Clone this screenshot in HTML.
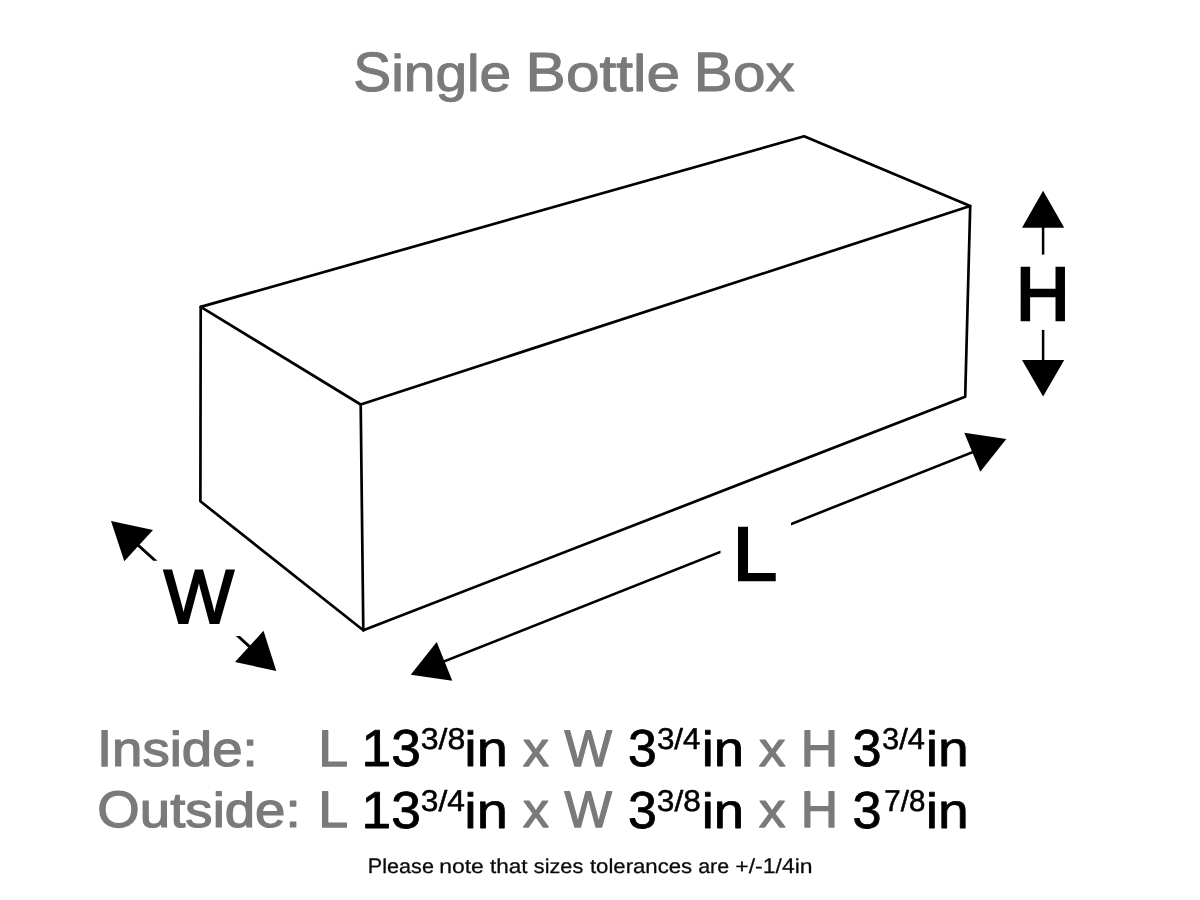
<!DOCTYPE html>
<html><head><meta charset="utf-8">
<style>
html,body{margin:0;padding:0;background:#fff;width:1200px;height:900px;overflow:hidden}
svg{display:block;position:absolute;left:0;top:0;will-change:transform}
text{font-family:"Liberation Sans",sans-serif}
</style></head><body>
<svg width="1200" height="900" viewBox="0 0 1200 900">
<g fill="none" stroke="#000" stroke-width="2.7" stroke-linejoin="round" stroke-linecap="round">
<path d="M200.7 306.9 L804.1 136.2 L970.2 206 L360.7 404.5 Z"/>
<path d="M200.7 306.9 L200.4 501.3 L363.3 630.3 L360.7 404.5"/>
<path d="M970.2 206 L965.2 396.7 L363.3 630.3"/>
</g>
<g fill="#000">
<polygon points="1043.1,190.8 1064.2,227.7 1022,227.7"/>
<rect x="1041.85" y="227" width="2.5" height="27.6"/>
<rect x="1041.85" y="329.9" width="2.5" height="31"/>
<polygon points="1022,360.1 1064.2,360.1 1043.1,396.5"/>
<polygon points="111,521 153,530 124.3,561.3"/>
<polygon points="139.6,544.6 157.4,560.7 153.2,560.7 137.7,546.7 130,540"/>
<polygon points="276.3,671 235,662 263.5,630.7"/>
<polygon points="240,636 235.8,636 248.3,647.4 255,653 250.2,645.3"/>
<polygon points="410.7,674.7 436.7,641.9 452.3,680.7"/>
<polygon points="441,661.29 720.5,550.56 720.5,553.35 441,664.08"/>
<polygon points="1006.3,439 964.3,432.7 980.3,471.7"/>
<polygon points="791,522.63 974,450.13 974,452.92 791,525.42"/>
</g>

<g font-family="Liberation Sans" font-size="100" stroke-linejoin="round" style="font-kerning:none;font-variant-ligatures:none;text-rendering:geometricPrecision">
<text transform="matrix(0.56823 0 0 0.55379 353.270 90.850)" fill="#7a7a7a" stroke="#7a7a7a" stroke-width="1.961">S</text>
<text transform="matrix(0.56823 0 0 0.51403 391.170 90.850)" fill="#7a7a7a" stroke="#7a7a7a" stroke-width="2.035">ingle</text>
<text transform="matrix(0.60395 0 0 0.55379 525.596 90.850)" fill="#7a7a7a" stroke="#7a7a7a" stroke-width="1.902">B</text>
<text transform="matrix(0.60395 0 0 0.51403 565.879 90.850)" fill="#7a7a7a" stroke="#7a7a7a" stroke-width="1.974">ottle</text>
<text transform="matrix(0.58514 0 0 0.55379 693.850 90.850)" fill="#7a7a7a" stroke="#7a7a7a" stroke-width="1.932">B</text>
<text transform="matrix(0.58514 0 0 0.51403 732.879 90.850)" fill="#7a7a7a" stroke="#7a7a7a" stroke-width="2.006">ox</text>
<text transform="matrix(0.21630 0 0 0.21076 367.776 872.850)" fill="#0a0a0a" stroke="#0a0a0a" stroke-width="1.405">P</text>
<text transform="matrix(0.21630 0 0 0.20035 382.203 872.850)" fill="#0a0a0a" stroke="#0a0a0a" stroke-width="1.441">lease</text>
<text transform="matrix(0.22964 0 0 0.20035 439.175 872.850)" fill="#0a0a0a" stroke="#0a0a0a" stroke-width="1.399">note</text>
<text transform="matrix(0.22607 0 0 0.20035 489.908 872.850)" fill="#0a0a0a" stroke="#0a0a0a" stroke-width="1.410">that</text>
<text transform="matrix(0.21699 0 0 0.20035 533.796 872.850)" fill="#0a0a0a" stroke="#0a0a0a" stroke-width="1.439">sizes</text>
<text transform="matrix(0.22159 0 0 0.20035 589.915 872.850)" fill="#0a0a0a" stroke="#0a0a0a" stroke-width="1.424">tolerances</text>
<text transform="matrix(0.21349 0 0 0.20035 698.243 872.850)" fill="#0a0a0a" stroke="#0a0a0a" stroke-width="1.451">are</text>
<text transform="matrix(0.22988 0 0 0.20035 735.278 872.850)" fill="#0a0a0a" stroke="#0a0a0a" stroke-width="1.398">+</text>
<text transform="matrix(0.22988 0 0 0.20319 748.702 872.857)" fill="#0a0a0a" stroke="#0a0a0a" stroke-width="1.388">/</text>
<text transform="matrix(0.22988 0 0 0.20035 755.089 872.850)" fill="#0a0a0a" stroke="#0a0a0a" stroke-width="1.398">-</text>
<text transform="matrix(0.22988 0 0 0.21076 762.744 872.850)" fill="#0a0a0a" stroke="#0a0a0a" stroke-width="1.363">1</text>
<text transform="matrix(0.22988 0 0 0.20319 775.529 872.857)" fill="#0a0a0a" stroke="#0a0a0a" stroke-width="1.388">/</text>
<text transform="matrix(0.22988 0 0 0.21076 781.916 872.850)" fill="#0a0a0a" stroke="#0a0a0a" stroke-width="1.363">4</text>
<text transform="matrix(0.22988 0 0 0.20035 794.701 872.850)" fill="#0a0a0a" stroke="#0a0a0a" stroke-width="1.398">in</text>
<text transform="matrix(0.54548 0 0 0.51454 96.916 765.650)" fill="#7a7a7a" stroke="#7a7a7a" stroke-width="2.454">I</text>
<text transform="matrix(0.54548 0 0 0.48914 112.071 765.650)" fill="#7a7a7a" stroke="#7a7a7a" stroke-width="2.517">nside:</text>
<text transform="matrix(0.53751 0 0 0.51454 318.241 765.650)" fill="#7a7a7a" stroke="#7a7a7a" stroke-width="2.472">L</text>
<text transform="matrix(0.53367 0 0 0.52108 361.460 765.875)" fill="#000" stroke="#000" stroke-width="1.612">13</text>
<text transform="matrix(0.32057 0 0 0.30160 420.754 749.025)" fill="#000" stroke="#000" stroke-width="1.769">3</text>
<text transform="matrix(0.32057 0 0 0.29078 438.583 749.036)" fill="#000" stroke="#000" stroke-width="1.801">/</text>
<text transform="matrix(0.32057 0 0 0.30160 447.489 749.025)" fill="#000" stroke="#000" stroke-width="1.769">8</text>
<text transform="matrix(0.56073 0 0 0.49535 464.374 765.875)" fill="#000" stroke="#000" stroke-width="1.613">in</text>
<text transform="matrix(0.51671 0 0 0.48914 523.070 765.650)" fill="#7a7a7a" stroke="#7a7a7a" stroke-width="2.586">x</text>
<text transform="matrix(0.50319 0 0 0.51454 564.429 765.650)" fill="#7a7a7a" stroke="#7a7a7a" stroke-width="2.555">W</text>
<text transform="matrix(0.51780 0 0 0.52108 628.053 765.875)" fill="#000" stroke="#000" stroke-width="1.636">3</text>
<text transform="matrix(0.31336 0 0 0.30160 656.882 749.025)" fill="#000" stroke="#000" stroke-width="1.789">3</text>
<text transform="matrix(0.31336 0 0 0.29078 674.309 749.036)" fill="#000" stroke="#000" stroke-width="1.822">/</text>
<text transform="matrix(0.31336 0 0 0.30160 683.015 749.025)" fill="#000" stroke="#000" stroke-width="1.789">4</text>
<text transform="matrix(0.54371 0 0 0.49535 701.788 765.875)" fill="#000" stroke="#000" stroke-width="1.638">in</text>
<text transform="matrix(0.52926 0 0 0.48914 759.056 765.650)" fill="#7a7a7a" stroke="#7a7a7a" stroke-width="2.555">x</text>
<text transform="matrix(0.51737 0 0 0.51454 800.806 765.650)" fill="#7a7a7a" stroke="#7a7a7a" stroke-width="2.520">H</text>
<text transform="matrix(0.52202 0 0 0.52108 852.437 765.875)" fill="#000" stroke="#000" stroke-width="1.630">3</text>
<text transform="matrix(0.30883 0 0 0.30160 882.099 749.025)" fill="#000" stroke="#000" stroke-width="1.802">3</text>
<text transform="matrix(0.30883 0 0 0.29078 899.274 749.036)" fill="#000" stroke="#000" stroke-width="1.835">/</text>
<text transform="matrix(0.30883 0 0 0.30160 907.854 749.025)" fill="#000" stroke="#000" stroke-width="1.802">4</text>
<text transform="matrix(0.55299 0 0 0.49535 925.726 765.875)" fill="#000" stroke="#000" stroke-width="1.624">in</text>
<text transform="matrix(0.54582 0 0 0.51454 97.365 827.350)" fill="#7a7a7a" stroke="#7a7a7a" stroke-width="2.453">O</text>
<text transform="matrix(0.54582 0 0 0.48914 139.820 827.350)" fill="#7a7a7a" stroke="#7a7a7a" stroke-width="2.516">utside:</text>
<text transform="matrix(0.53751 0 0 0.51454 318.241 827.350)" fill="#7a7a7a" stroke="#7a7a7a" stroke-width="2.472">L</text>
<text transform="matrix(0.53367 0 0 0.52108 361.460 827.575)" fill="#000" stroke="#000" stroke-width="1.612">13</text>
<text transform="matrix(0.31714 0 0 0.30160 420.767 810.725)" fill="#000" stroke="#000" stroke-width="1.778">3</text>
<text transform="matrix(0.31714 0 0 0.29078 438.405 810.736)" fill="#000" stroke="#000" stroke-width="1.811">/</text>
<text transform="matrix(0.31714 0 0 0.30160 447.216 810.725)" fill="#000" stroke="#000" stroke-width="1.778">4</text>
<text transform="matrix(0.56073 0 0 0.49535 464.374 827.575)" fill="#000" stroke="#000" stroke-width="1.613">in</text>
<text transform="matrix(0.51671 0 0 0.48914 523.070 827.350)" fill="#7a7a7a" stroke="#7a7a7a" stroke-width="2.586">x</text>
<text transform="matrix(0.50319 0 0 0.51454 564.429 827.350)" fill="#7a7a7a" stroke="#7a7a7a" stroke-width="2.555">W</text>
<text transform="matrix(0.51780 0 0 0.52108 628.053 827.575)" fill="#000" stroke="#000" stroke-width="1.636">3</text>
<text transform="matrix(0.31675 0 0 0.30160 656.869 810.725)" fill="#000" stroke="#000" stroke-width="1.779">3</text>
<text transform="matrix(0.31675 0 0 0.29078 674.485 810.736)" fill="#000" stroke="#000" stroke-width="1.812">/</text>
<text transform="matrix(0.31675 0 0 0.30160 683.285 810.725)" fill="#000" stroke="#000" stroke-width="1.779">8</text>
<text transform="matrix(0.54371 0 0 0.49535 701.788 827.575)" fill="#000" stroke="#000" stroke-width="1.638">in</text>
<text transform="matrix(0.52926 0 0 0.48914 759.056 827.350)" fill="#7a7a7a" stroke="#7a7a7a" stroke-width="2.555">x</text>
<text transform="matrix(0.51737 0 0 0.51454 800.806 827.350)" fill="#7a7a7a" stroke="#7a7a7a" stroke-width="2.520">H</text>
<text transform="matrix(0.52202 0 0 0.52108 852.437 827.575)" fill="#000" stroke="#000" stroke-width="1.630">3</text>
<text transform="matrix(0.29527 0 0 0.30160 884.361 810.725)" fill="#000" stroke="#000" stroke-width="1.843">7</text>
<text transform="matrix(0.29527 0 0 0.29078 900.783 810.736)" fill="#000" stroke="#000" stroke-width="1.877">/</text>
<text transform="matrix(0.29527 0 0 0.30160 908.986 810.725)" fill="#000" stroke="#000" stroke-width="1.843">8</text>
<text transform="matrix(0.55299 0 0 0.49535 925.726 827.575)" fill="#000" stroke="#000" stroke-width="1.624">in</text>
<text transform="matrix(0.74938 0 0 0.75510 1015.643 319.600)" fill="#000" stroke="#000" stroke-width="3.323" stroke-linejoin="miter">H</text>
<text transform="matrix(0.74399 0 0 0.76309 163.733 623.050)" fill="#000" stroke="#000" stroke-width="2.654" stroke-linejoin="miter">W</text>
<text transform="matrix(0.79833 0 0 0.75728 732.701 580.150)" fill="#000" stroke="#000" stroke-width="3.215" stroke-linejoin="miter">L</text>
</g>
</svg>
</body></html>
